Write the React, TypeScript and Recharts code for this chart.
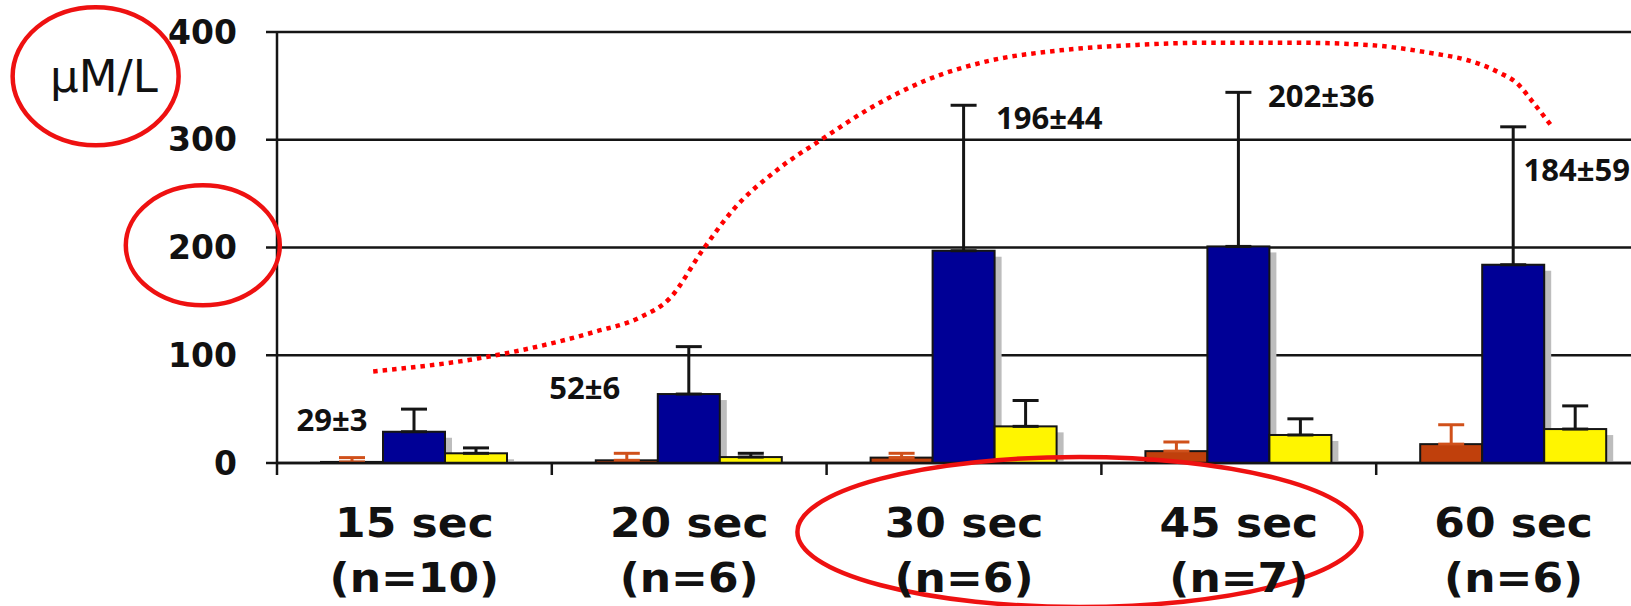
import { Bar, CartesianGrid, ComposedChart, ErrorBar, Line, ReferenceDot, XAxis, YAxis } from "recharts";

const times = ["15 sec", "20 sec", "30 sec", "45 sec", "60 sec"];
const counts = ["(n=10)", "(n=6)", "(n=6)", "(n=7)", "(n=6)"];

// bar means and the upper error bar (µM/L)
const redValues = [1, 2.5, 5, 11, 17.5];
const redErrors = [4, 6.5, 4, 8.5, 18];
const blueValues = [29, 64, 197, 201, 184];
const blueErrors = [21, 44, 135, 143, 128];
const yellowValues = [9, 5.5, 34, 26, 31.5];
const yellowErrors = [5, 3.5, 24, 15, 21.5];

const yTicks = [0, 100, 200, 300, 400];

// hand drawn red dotted trend, x in category units (0..5), y in µM/L
const trendX = [0.35, 0.73, 1.16, 1.32, 1.43, 1.55, 1.66, 1.82, 1.98, 2.15, 2.36, 2.57, 2.85, 3.13, 3.36, 3.72, 3.97, 4.21, 4.33, 4.45, 4.51, 4.57, 4.64];
const trendY = [85, 97, 122, 135, 153, 198, 235, 272, 300, 328, 355, 372, 383, 388, 390, 390, 388, 380, 374, 362, 353, 335, 312];

// "mean±sd" notes typed on the slide, same units
const noteText = ["29±3", "52±6", "196±44", "202±36", "184±59"];
const noteX = [0.2, 1.12, 2.81, 3.8, 4.73];
const noteY = [40, 70, 320, 341, 272];

// unit label and the red circles drawn over the chart
const unitText = "µM/L";
const unitX = -0.63;
const unitY = 359;
const circleX = [-0.66, -0.27, 2.92];
const circleY = [359, 202, -64];

const data = times.map((name, i) => ({
  name,
  red: redValues[i],
  redErr: [0, redErrors[i]],
  blue: blueValues[i],
  blueErr: [0, blueErrors[i]],
  yellow: yellowValues[i],
  yellowErr: [0, yellowErrors[i]],
}));

const trend = trendX.map((u, i) => ({ u, v: trendY[i] }));

const ink = "#151515";
const axisFont = { fontFamily: "DejaVu Sans", fontWeight: 700, fontSize: 40, fill: "#111" };
const noteFont = { fontFamily: "Open Sans", fontWeight: 700, fontSize: 31, fill: "#111" };
const ellipseRadii = [
  [83, 69],
  [77, 60],
  [282, 75],
];

function ShadowBar(props: any) {
  const { x, y, width, height, fill } = props;
  return (
    <g>
      {height > 6 && <rect x={x + 7} y={y + 6} width={width} height={height - 6} fill="#bdbdbd" />}
      <rect x={x} y={y} width={width} height={height} fill={fill} stroke={ink} strokeWidth={2} />
    </g>
  );
}

function TimeTick(props: any) {
  const { x, y, payload, index } = props;
  const half = payload.offset ?? 0;
  // the slide's labels are a bit stretched sideways
  return (
    <g>
      <line x1={x - half} x2={x - half} y1={y} y2={y + 12} stroke={ink} strokeWidth={2.5} />
      <g transform={`translate(${x} ${y}) scale(1.1 1)`}>
        <text x={0} y={74} textAnchor="middle" style={axisFont}>
          {payload.value}
        </text>
        <text x={0} y={129} textAnchor="middle" style={axisFont}>
          {counts[index]}
        </text>
      </g>
    </g>
  );
}

export default function App() {
  return (
    <div style={{ position: "absolute", left: 0, top: 0, width: 1631, height: 606, overflow: "hidden", background: "#fff" }}>
      <ComposedChart
        width={1651}
        height={606}
        data={data}
        barSize={62}
        barGap={0}
        margin={{ top: 32, right: 0, bottom: 0, left: 0 }}
      >
        <CartesianGrid vertical={false} stroke={ink} strokeWidth={2.5} />
        <XAxis
          dataKey="name"
          height={143}
          tickSize={0}
          tickMargin={0}
          tickLine={false}
          axisLine={{ stroke: ink, strokeWidth: 2.5 }}
          tick={<TimeTick />}
          interval={0}
        />
        <XAxis xAxisId="u" type="number" dataKey="u" domain={[0, 5]} hide allowDataOverflow />
        <YAxis
          width={277}
          domain={[0, 400]}
          ticks={yTicks}
          interval={0}
          tickSize={11}
          tickMargin={29}
          axisLine={{ stroke: ink, strokeWidth: 2.5 }}
          tickLine={{ stroke: ink, strokeWidth: 2.5 }}
          tick={{ fill: "#111", fontSize: 33, fontWeight: 700, fontFamily: "DejaVu Sans" }}
        />
        <Bar dataKey="red" fill="#c0400c" shape={<ShadowBar />} isAnimationActive={false}>
          <ErrorBar dataKey="redErr" width={13} stroke="#d0501a" strokeWidth={3} />
        </Bar>
        <Bar dataKey="blue" fill="#000096" shape={<ShadowBar />} isAnimationActive={false}>
          <ErrorBar dataKey="blueErr" width={13} stroke={ink} strokeWidth={3} />
        </Bar>
        <Bar dataKey="yellow" fill="#fff500" shape={<ShadowBar />} isAnimationActive={false}>
          <ErrorBar dataKey="yellowErr" width={13} stroke={ink} strokeWidth={3} />
        </Bar>
        <Line
          xAxisId="u"
          data={trend}
          dataKey="v"
          type="monotone"
          stroke="#ff0000"
          strokeWidth={4.5}
          strokeDasharray="4.5 5"
          dot={false}
          activeDot={false}
          isAnimationActive={false}
        />
        {noteText.map((t, i) => (
          <ReferenceDot
            key={t}
            xAxisId="u"
            x={noteX[i]}
            y={noteY[i]}
            ifOverflow="visible"
            shape={(p: any) => (
              <text x={p.cx} y={p.cy} dy="0.36em" textAnchor="middle" style={noteFont}>
                {t}
              </text>
            )}
          />
        ))}
        <ReferenceDot
          xAxisId="u"
          x={unitX}
          y={unitY}
          ifOverflow="visible"
          shape={(p: any) => (
            <text
              x={p.cx}
              y={p.cy}
              dy="0.36em"
              textAnchor="middle"
              style={{ fontFamily: "DejaVu Sans", fontSize: 45, fill: "#111" }}
            >
              {unitText}
            </text>
          )}
        />
        {circleX.map((cx, i) => (
          <ReferenceDot
            key={i}
            xAxisId="u"
            x={cx}
            y={circleY[i]}
            ifOverflow="visible"
            shape={(p: any) => (
              <ellipse
                cx={p.cx}
                cy={p.cy}
                rx={ellipseRadii[i][0]}
                ry={ellipseRadii[i][1]}
                fill="none"
                stroke="#ee1111"
                strokeWidth={4.5}
              />
            )}
          />
        ))}
      </ComposedChart>
    </div>
  );
}
